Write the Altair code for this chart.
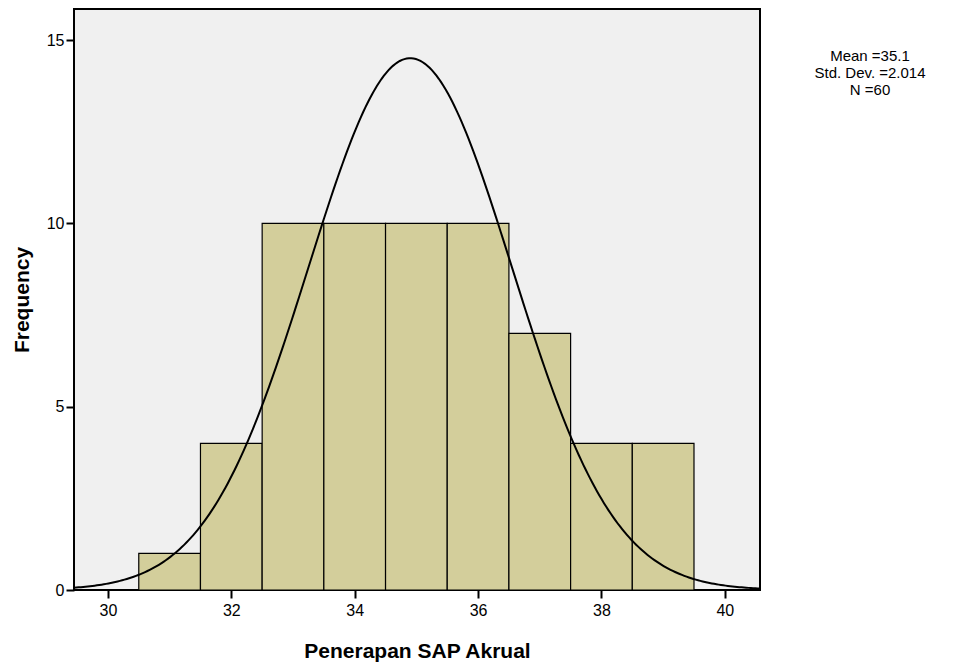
import altair as alt
import pandas as pd
import numpy as np

bin_start = [30.5, 31.5, 32.5, 33.5, 34.5, 35.5, 36.5, 37.5, 38.5]
bin_end = [31.5, 32.5, 33.5, 34.5, 35.5, 36.5, 37.5, 38.5, 39.5]
counts = [1, 4, 10, 10, 10, 10, 7, 4, 4]

# normal curve parameters as drawn
curve_mean = 34.9
curve_sd = 1.65
curve_n = 60
bin_width = 1.0

stats_lines = ["Mean =35.1", "Std. Dev. =2.014", "N =60"]

x_min, x_max = 29.45, 40.57
y_max = 15.85

bars = pd.DataFrame({"start": bin_start, "end": bin_end, "count": counts})
xs = np.linspace(x_min, x_max, 300)
ys = curve_n * bin_width / (curve_sd * np.sqrt(2 * np.pi)) * np.exp(-0.5 * ((xs - curve_mean) / curve_sd) ** 2)
curve = pd.DataFrame({"x": xs, "y": ys})
stats = pd.DataFrame({"t": stats_lines, "i": [0, 1, 2]})

xscale = alt.Scale(domain=[x_min, x_max], nice=False, zero=False)
yscale = alt.Scale(domain=[0, y_max], nice=False)

xaxis = alt.Axis(values=[30, 32, 34, 36, 38, 40], format="d", grid=False, title="Penerapan SAP Akrual",
                 labelFontSize=16, titleFontSize=21, titleFontWeight="bold",
                 tickSize=8, tickWidth=2, tickColor="black", domain=False,
                 labelColor="black", titleColor="black", labelPadding=4, titlePadding=22)
yaxis = alt.Axis(values=[0, 5, 10, 15], format="d", grid=False, title="Frequency",
                 labelFontSize=16, titleFontSize=21, titleFontWeight="bold",
                 tickSize=8, tickWidth=2, tickColor="black", domain=False,
                 labelColor="black", titleColor="black", labelPadding=2, titlePadding=14)

bar_layer = alt.Chart(bars).mark_rect(fill="#d3ce9b", stroke="black", strokeWidth=1.2).encode(
    x=alt.X("start:Q", scale=xscale, axis=xaxis),
    x2="end:Q",
    y=alt.Y("count:Q", scale=yscale, axis=yaxis),
    y2=alt.datum(0),
)

line_layer = alt.Chart(curve).mark_line(color="black", strokeWidth=2).encode(
    x=alt.X("x:Q", scale=xscale),
    y=alt.Y("y:Q", scale=yscale),
)

text_layer = alt.Chart(stats).mark_text(fontSize=15, color="black", align="center", baseline="middle").encode(
    x=alt.value(796),
    y=alt.Y("i:Q", scale=alt.Scale(domain=[0, 2], range=[47, 81]), axis=None),
    text="t:N",
)

chart = alt.layer(bar_layer, line_layer).resolve_scale(y="shared")
chart = alt.layer(chart, text_layer).resolve_scale(y="independent").properties(
    width=686, height=581,
    autosize=alt.AutoSizeParams(type="none"),
    padding={"left": 66, "top": 1, "right": 185, "bottom": 76},
    background="white",
).configure(
    font="Liberation Sans",
    view=alt.ViewConfig(fill="#f0f0f0", stroke="black", strokeWidth=2),
)

chart.save("out.html", embed_options={"renderer": "svg", "actions": False})
